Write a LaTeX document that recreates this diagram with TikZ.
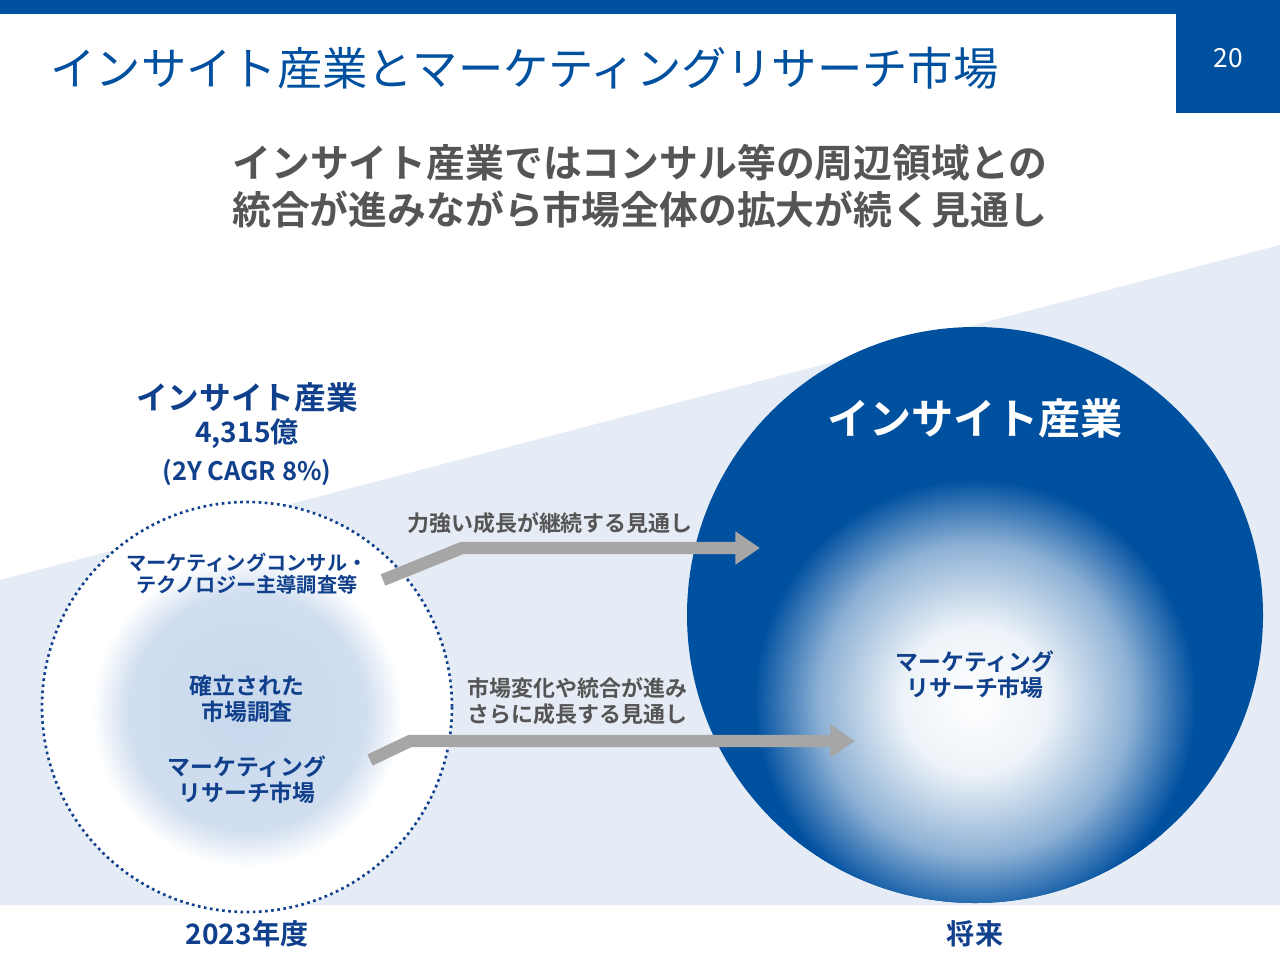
\documentclass[tikz,border=0pt]{standalone}
\usetikzlibrary{arrows.meta}
\usepackage{fontspec}
\setmainfont{Noto Sans CJK JP}
\newfontfamily\jpb{Noto Sans CJK JP Bold}
\definecolor{mblue}{RGB}{0,80,160}
\definecolor{tblue}{RGB}{16,64,140}
\definecolor{bgl}{RGB}{230,236,245}
\definecolor{gtxt}{RGB}{85,85,85}
\definecolor{arr}{RGB}{166,166,166}
\definecolor{pale}{RGB}{200,216,236}
\pgfdeclareradialshading{glowbig}{\pgfpoint{0bp}{0bp}}{color(0bp)=(white); color(8bp)=(white!93!mblue); color(17bp)=(white!55!mblue); color(24bp)=(mblue); color(50bp)=(mblue)}
\pgfdeclareradialshading{glowsmall}{\pgfpoint{0bp}{0bp}}{color(0bp)=(pale); color(19bp)=(pale!85!white); color(25bp)=(white); color(50bp)=(white)}
\begin{document}
\begin{tikzpicture}[x=0.02cm,y=-0.02cm,
  bl/.style={font=\jpb, text=tblue, align=center, inner sep=0},
  gr/.style={font=\jpb, text=gtxt, align=left, inner sep=0},
  arrw/.style={arr, line width=7pt, -{Triangle[length=14pt,width=18pt]}}]
\useasboundingbox (0,0) rectangle (1280,960);
\fill[white] (0,0) rectangle (1280,960);
\fill[bgl] (0,580) -- (1280,245) -- (1280,905) -- (0,905) -- cycle;
\fill[mblue] (0,0) rectangle (1280,14);
\fill[mblue] (1176,14) rectangle (1280,113);
\node[text=white, font=\fontsize{15}{18}\selectfont] (pg) at (1228,58) {20};
\node[anchor=west, text=mblue, font=\fontsize{25.8}{32}\selectfont, inner sep=0] (title) at (50,68) {インサイト産業とマーケティングリサーチ市場};
\node[gr, align=center, font=\jpb\fontsize{22.1}{27}\selectfont] (sub) at (640,186) {インサイト産業ではコンサル等の周辺領域との\\統合が進みながら市場全体の拡大が続く見通し};
% left
\fill[white] (247,707) circle (205);
\shade[shading=glowsmall] (247,712) circle (155);
\draw[tblue, line width=1.5pt, dotted] (247,707) circle (205);
% right
\fill[mblue] (975,615) circle (288);
\begin{scope}
\clip (975,615) circle (288);
\shade[shading=glowbig] (975,700) circle (230);
\end{scope}
% texts
\node[bl, font=\jpb\fontsize{18}{22}\selectfont] (ins) at (247,397) {インサイト産業};
\node[bl, font=\jpb\fontsize{16}{20}\selectfont] (val) at (247,434) {4,315億};
\node[bl, font=\jpb\fontsize{14.5}{18}\selectfont] (cagr) at (247,472) {(2Y CAGR 8\%)};
\node[bl, font=\jpb\fontsize{11.5}{12.5}\selectfont] (cons) at (247,574) {マーケティングコンサル・\\テクノロジー主導調査等};
\node[bl, font=\jpb\fontsize{13}{15}\selectfont] (est) at (247,699) {確立された\\市場調査};
\node[bl, font=\jpb\fontsize{13}{15}\selectfont] (mr1) at (247,780) {マーケティング\\リサーチ市場};
\node[bl, font=\jpb\fontsize{16}{20}\selectfont] (y1) at (247,934) {2023年度};
\node[bl, font=\jpb\fontsize{16}{20}\selectfont] (y2) at (975,934) {将来};
\node[bl, text=white, font=\jpb\fontsize{24}{28}\selectfont] (ins2) at (975,418) {インサイト産業};
\node[bl, font=\jpb\fontsize{13}{15}\selectfont] (mr2) at (975,675) {マーケティング\\リサーチ市場};
\node[gr, font=\jpb\fontsize{12.5}{15}\selectfont] (l1) at (550,523) {力強い成長が継続する見通し};
\node[gr, anchor=west, font=\jpb\fontsize{12.5}{15}\selectfont] (l2) at (467,701) {市場変化や統合が進み\\さらに成長する見通し};
\coordinate (a1) at (383,580); \coordinate (a2) at (760,548);
\coordinate (b1) at (370,760); \coordinate (b2) at (855,741);
\draw[arrw] (a1) -- (462,548) -- (a2);
\draw[arrw] (b1) -- (410,741) -- (b2);
\end{tikzpicture}
\end{document}
